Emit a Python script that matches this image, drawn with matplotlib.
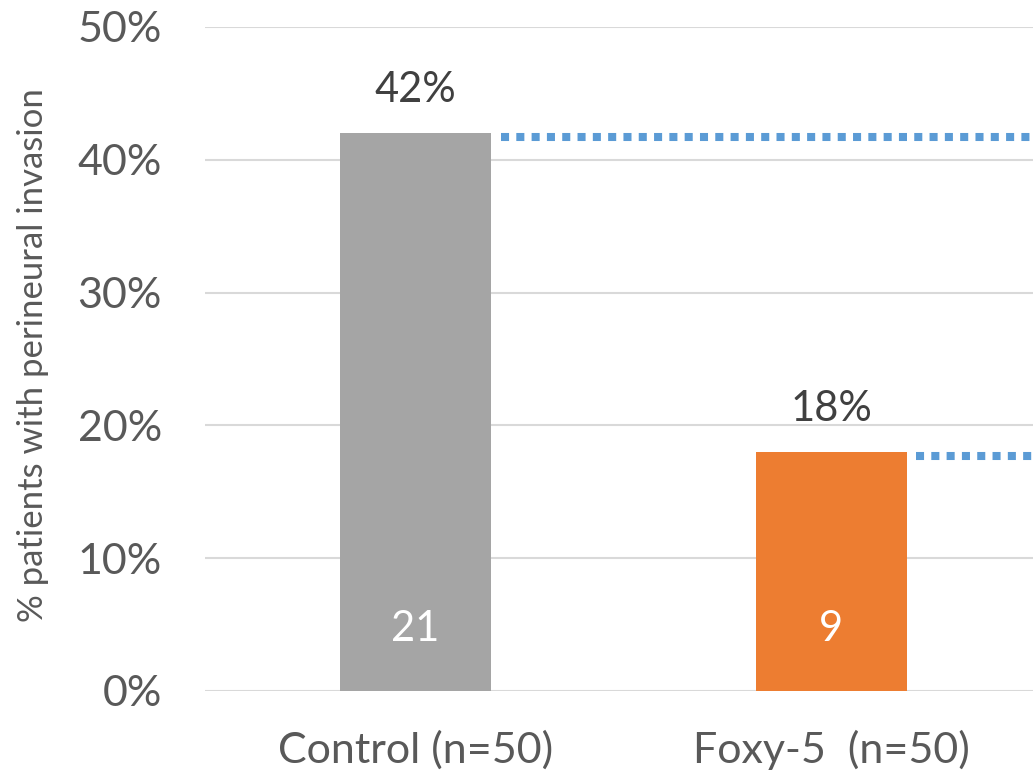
import matplotlib
matplotlib.use('Agg')
from matplotlib import pyplot as plt

plt.rcParams['font.family'] = ['Lato', 'DejaVu Sans']

# data
groups = ['Control (n=50)', 'Foxy-5  (n=50)']
percent = [42, 18]
counts = [21, 9]
ref_levels = [41.7, 17.7]
bar_colors = ['#a5a5a5', '#ed7d31']

text_col = '#595959'

fig = plt.figure(figsize=(10.33, 7.76), dpi=100)
ax = fig.add_axes([205/1033, 1 - 691/776, 834/1033, (691 - 27)/776])

x = list(range(len(groups)))
ax.bar(x, percent, width=0.363, color=bar_colors, zorder=2)

# dotted reference lines from each bar to the right edge
for i, lvl in enumerate(ref_levels):
    ax.plot([i + 0.205, 1.5], [lvl, lvl], color='#5b9bd5', linewidth=5.8,
            linestyle=(0, (1, 0.9)), dash_capstyle='butt', zorder=3)

for i, (p, c) in enumerate(zip(percent, counts)):
    ax.text(i, p + 1.8, f'{p}%', ha='center', va='bottom', fontsize=30, color='#404040')
    ax.text(i, 4.7, str(c), ha='center', va='center', fontsize=30, color='white')

ax.set_xlim(-0.506, 1.5)
ax.set_ylim(0, 50)
ax.set_yticks([0, 10, 20, 30, 40, 50])
ax.set_yticklabels([f'{v}%' for v in [0, 10, 20, 30, 40, 50]])
ax.set_xticks(x)
ax.set_xticklabels(groups)
ax.tick_params(axis='y', length=0, pad=31, labelsize=31, labelcolor=text_col)
ax.tick_params(axis='x', length=0, pad=28, labelsize=31, labelcolor=text_col)
ax.grid(axis='y', color='#d9d9d9', linewidth=1.5, zorder=0)
ax.set_axisbelow(True)
for s in ax.spines.values():
    s.set_visible(False)

fig.text(33/1033, 1 - 355/776, '% patients with perineural invasion', rotation=90,
         ha='center', va='center', fontsize=25, color=text_col)

plt.savefig('out.png', dpi=100)
